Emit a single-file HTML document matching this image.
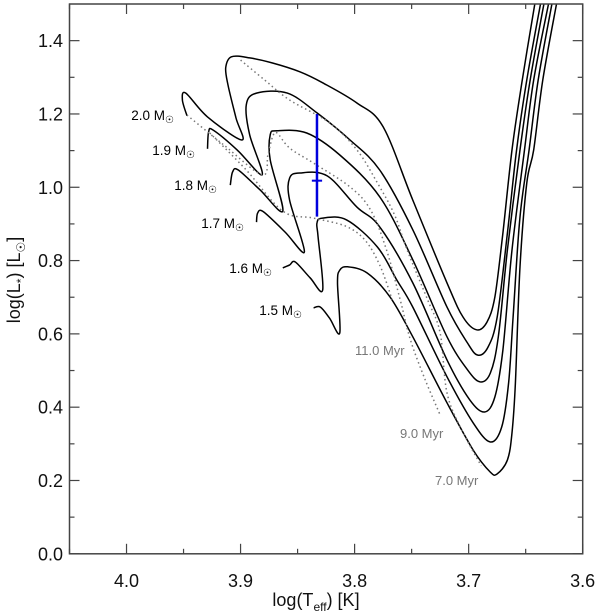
<!DOCTYPE html>
<html><head><meta charset="utf-8">
<style>
html,body{margin:0;padding:0;background:#fff;}
svg{display:block;font-family:"Liberation Sans",Arial,sans-serif;}
</style></head>
<body>
<svg id="chart" width="600" height="611" viewBox="0 0 600 611" xmlns="http://www.w3.org/2000/svg">
<g id="tracks"></g>
<g id="isos"></g>
<g id="axes"></g>
<g id="labels"></g>
</svg>
<script>
// ---- data (log Teff, log L) ----
const xTicks = [4.0, 3.9, 3.8, 3.7, 3.6];
const xTickLabels = ["4.0", "3.9", "3.8", "3.7", "3.6"];
const yTicks = [0.0, 0.2, 0.4, 0.6, 0.8, 1.0, 1.2, 1.4];
const yTickLabels = ["0.0", "0.2", "0.4", "0.6", "0.8", "1.0", "1.2", "1.4"];
const massNames = ["2.0", "1.9", "1.8", "1.7", "1.6", "1.5"];
const track20 = [[3.947,1.195],[3.951,1.238],[3.948,1.257],[3.929,1.192],[3.899,1.129],[3.904,1.189],[3.911,1.279],[3.913,1.326],[3.908,1.356],[3.892,1.353],[3.872,1.339],[3.848,1.315],[3.828,1.285],[3.798,1.230],[3.775,1.165],[3.749,0.965],[3.719,0.739],[3.705,0.646],[3.693,0.611],[3.684,0.632],[3.677,0.701],[3.670,0.875],[3.662,1.102],[3.653,1.293],[3.642,1.500]];
const track19 = [[3.929,1.105],[3.928,1.151],[3.924,1.156],[3.903,1.102],[3.881,1.034],[3.892,1.143],[3.895,1.225],[3.886,1.257],[3.859,1.257],[3.833,1.203],[3.804,1.129],[3.778,1.047],[3.749,0.884],[3.719,0.673],[3.701,0.575],[3.692,0.542],[3.683,0.564],[3.675,0.646],[3.666,0.875],[3.658,1.102],[3.649,1.293],[3.637,1.500]];
const track18 = [[3.909,1.006],[3.907,1.042],[3.902,1.047],[3.883,0.993],[3.863,0.935],[3.874,1.075],[3.874,1.143],[3.868,1.154],[3.842,1.148],[3.813,1.088],[3.778,0.974],[3.749,0.802],[3.719,0.592],[3.701,0.502],[3.690,0.469],[3.681,0.493],[3.674,0.592],[3.666,0.829],[3.655,1.102],[3.646,1.293],[3.634,1.500]];
const track17 = [[3.886,0.905],[3.885,0.930],[3.880,0.933],[3.861,0.878],[3.844,0.824],[3.857,0.965],[3.857,1.025],[3.848,1.039],[3.824,1.031],[3.798,0.946],[3.778,0.892],[3.749,0.739],[3.719,0.529],[3.699,0.420],[3.686,0.387],[3.677,0.428],[3.670,0.556],[3.662,0.829],[3.651,1.102],[3.643,1.293],[3.630,1.500]];
const track16 = [[3.863,0.780],[3.857,0.788],[3.852,0.796],[3.839,0.753],[3.828,0.720],[3.832,0.864],[3.833,0.903],[3.828,0.916],[3.807,0.911],[3.780,0.837],[3.763,0.747],[3.749,0.673],[3.719,0.483],[3.696,0.357],[3.681,0.305],[3.671,0.346],[3.665,0.466],[3.661,0.646],[3.655,0.919],[3.647,1.102],[3.639,1.293],[3.627,1.500]];
const track15 = [[3.836,0.671],[3.830,0.673],[3.822,0.643],[3.813,0.603],[3.815,0.739],[3.813,0.774],[3.806,0.783],[3.789,0.766],[3.769,0.701],[3.749,0.592],[3.719,0.412],[3.696,0.283],[3.681,0.223],[3.675,0.218],[3.666,0.256],[3.662,0.330],[3.659,0.466],[3.655,0.783],[3.649,1.012],[3.643,1.102],[3.635,1.293],[3.623,1.500]];
const iso11 = [[3.927,1.148],[3.895,1.047],[3.863,0.935],[3.836,0.916],[3.808,0.894],[3.791,0.856],[3.778,0.788],[3.767,0.693]];
const iso9 = [[3.947,1.197],[3.915,1.116],[3.881,1.034],[3.876,1.088],[3.872,1.137],[3.868,1.148],[3.857,1.107],[3.836,1.066],[3.804,1.001],[3.786,0.938],[3.772,0.829],[3.760,0.693],[3.751,0.583],[3.738,0.474],[3.725,0.379]];
const iso7 = [[3.900,1.347],[3.879,1.293],[3.857,1.238],[3.822,1.176],[3.798,1.102],[3.780,1.012],[3.765,0.925],[3.754,0.829],[3.736,0.693],[3.725,0.603],[3.719,0.439],[3.706,0.338],[3.689,0.240]];
const obsT = [3.833];
const obsL = [1.018];
const obsLhi = [1.20];
const obsLlo = [0.92];
const obsTerr = [0.0045];

// ---- axis functions ----
const X0 = 69.5, X1 = 582.7, Y0 = 553.8, Y1 = 4;
const xMin = 4.05, xMax = 3.6, yMin = 0.0, yMax = 1.5;
function sx(t){ return X0 + (xMin - t) / (xMin - xMax) * (X1 - X0); }
function sy(l){ return Y0 - (l - yMin) / (yMax - yMin) * (Y0 - Y1); }

const NS = "http://www.w3.org/2000/svg";
function mk(tag, attrs, parent){
  const e = document.createElementNS(NS, tag);
  for (const k in attrs) e.setAttribute(k, attrs[k]);
  parent.appendChild(e); return e;
}
function smoothPath(pts){
  const p = pts.map(d => [sx(d[0]), sy(d[1])]);
  let s = "M" + p[0][0].toFixed(1) + "," + p[0][1].toFixed(1);
  for (let i = 0; i < p.length - 1; i++){
    const a = p[i-1] || p[i], b = p[i], c = p[i+1], d = p[i+2] || c;
    const c1 = [b[0] + (c[0]-a[0])/6, b[1] + (c[1]-a[1])/6];
    const c2 = [c[0] - (d[0]-b[0])/6, c[1] - (d[1]-b[1])/6];
    s += " C" + c1[0].toFixed(1) + "," + c1[1].toFixed(1) + " " + c2[0].toFixed(1) + "," + c2[1].toFixed(1) + " " + c[0].toFixed(1) + "," + c[1].toFixed(1);
  }
  return s;
}

const gT = document.getElementById("tracks");
const tracks = [track20, track19, track18, track17, track16, track15];
tracks.forEach((tr, i) => {
  const el = mk("path", {d: smoothPath(tr), fill: "none", stroke: "#000", "stroke-width": 1.5, "stroke-linejoin": "round"}, gT);
  
  
});

const gI = document.getElementById("isos");
const isos = [iso11, iso9, iso7];
const isoNames = ["11", "9", "7"];
isos.forEach((iso, i) => {
  const el = mk("path", {d: smoothPath(iso), fill: "none", stroke: "#777", "stroke-width": 1.5, "stroke-dasharray": "1.5 3"}, gI);
  
  
});

for (let i = 0; i < obsT.length; i++){
  const v = mk("line", {x1: sx(obsT[i]), x2: sx(obsT[i]), y1: sy(obsLhi[i]), y2: sy(obsLlo[i]), stroke: "#0000dd", "stroke-width": 2.5}, gI);
  
  
  const h = mk("line", {x1: sx(obsT[i] + obsTerr[i]), x2: sx(obsT[i] - obsTerr[i]), y1: sy(obsL[i]), y2: sy(obsL[i]), stroke: "#0000dd", "stroke-width": 2}, gI);
  
  
}

const gA = document.getElementById("axes");
const frame = mk("rect", {x: X0, y: Y1, width: X1 - X0, height: Y0 - Y1, fill: "none", stroke: "#444", "stroke-width": 1.5}, gA);


xTicks.forEach((t, i) => {
  const x = sx(t);
  mk("line", {x1: x, x2: x, y1: Y0, y2: Y0 - 10, stroke: "#444", "stroke-width": 1.2}, gA);
  mk("line", {x1: x, x2: x, y1: Y1, y2: Y1 + 10, stroke: "#444", "stroke-width": 1.2}, gA);
  const lb = mk("text", {x: x, y: 587, "font-size": 18, "text-anchor": "middle", fill: "#111"}, gA);
  lb.textContent = xTickLabels[i];
  
  
});
[4.05, 3.95, 3.85, 3.75, 3.65].forEach(t => {
  const x = sx(t);
  mk("line", {x1: x, x2: x, y1: Y0, y2: Y0 - 5, stroke: "#444", "stroke-width": 1.2}, gA);
  mk("line", {x1: x, x2: x, y1: Y1, y2: Y1 + 5, stroke: "#444", "stroke-width": 1.2}, gA);
});
yTicks.forEach((l, i) => {
  const y = sy(l);
  mk("line", {x1: X0, x2: X0 + 10, y1: y, y2: y, stroke: "#444", "stroke-width": 1.2}, gA);
  mk("line", {x1: X1, x2: X1 - 10, y1: y, y2: y, stroke: "#444", "stroke-width": 1.2}, gA);
  const lb = mk("text", {x: 63, y: y + 6.5, "font-size": 18, "text-anchor": "end", fill: "#111"}, gA);
  lb.textContent = yTickLabels[i];
  
  
});
[0.1, 0.3, 0.5, 0.7, 0.9, 1.1, 1.3].forEach(l => {
  const y = sy(l);
  mk("line", {x1: X0, x2: X0 + 5, y1: y, y2: y, stroke: "#444", "stroke-width": 1.2}, gA);
  mk("line", {x1: X1, x2: X1 - 5, y1: y, y2: y, stroke: "#444", "stroke-width": 1.2}, gA);
});
</script>
<svg style="position:absolute;left:0;top:0" width="600" height="611" xmlns="http://www.w3.org/2000/svg" font-family="Liberation Sans, Arial, sans-serif">
  <text x="316" y="606" font-size="18" text-anchor="middle" fill="#111">log(T<tspan font-size="12" dy="5">eff</tspan><tspan dy="-5">) [K]</tspan></text>
  <text transform="translate(20,280) rotate(-90)" font-size="18" text-anchor="middle" fill="#111">log(L<tspan font-size="12" dy="5">*</tspan><tspan dy="-5">) [L</tspan><tspan font-size="12" dy="5">☉</tspan><tspan dy="-5">]</tspan></text>
  <g font-size="13.5" fill="#000" text-anchor="end">
    <text x="174" y="120">2.0 M<tspan font-size="10" dy="3">☉</tspan></text>
    <text x="195" y="155">1.9 M<tspan font-size="10" dy="3">☉</tspan></text>
    <text x="217" y="190">1.8 M<tspan font-size="10" dy="3">☉</tspan></text>
    <text x="244" y="228">1.7 M<tspan font-size="10" dy="3">☉</tspan></text>
    <text x="272" y="273">1.6 M<tspan font-size="10" dy="3">☉</tspan></text>
    <text x="302" y="315">1.5 M<tspan font-size="10" dy="3">☉</tspan></text>
  </g>
  <g font-size="13" fill="#777">
    <text x="355" y="355">11.0 Myr</text>
    <text x="400" y="438">9.0 Myr</text>
    <text x="435" y="485">7.0 Myr</text>
  </g>
</svg>
</body></html>
